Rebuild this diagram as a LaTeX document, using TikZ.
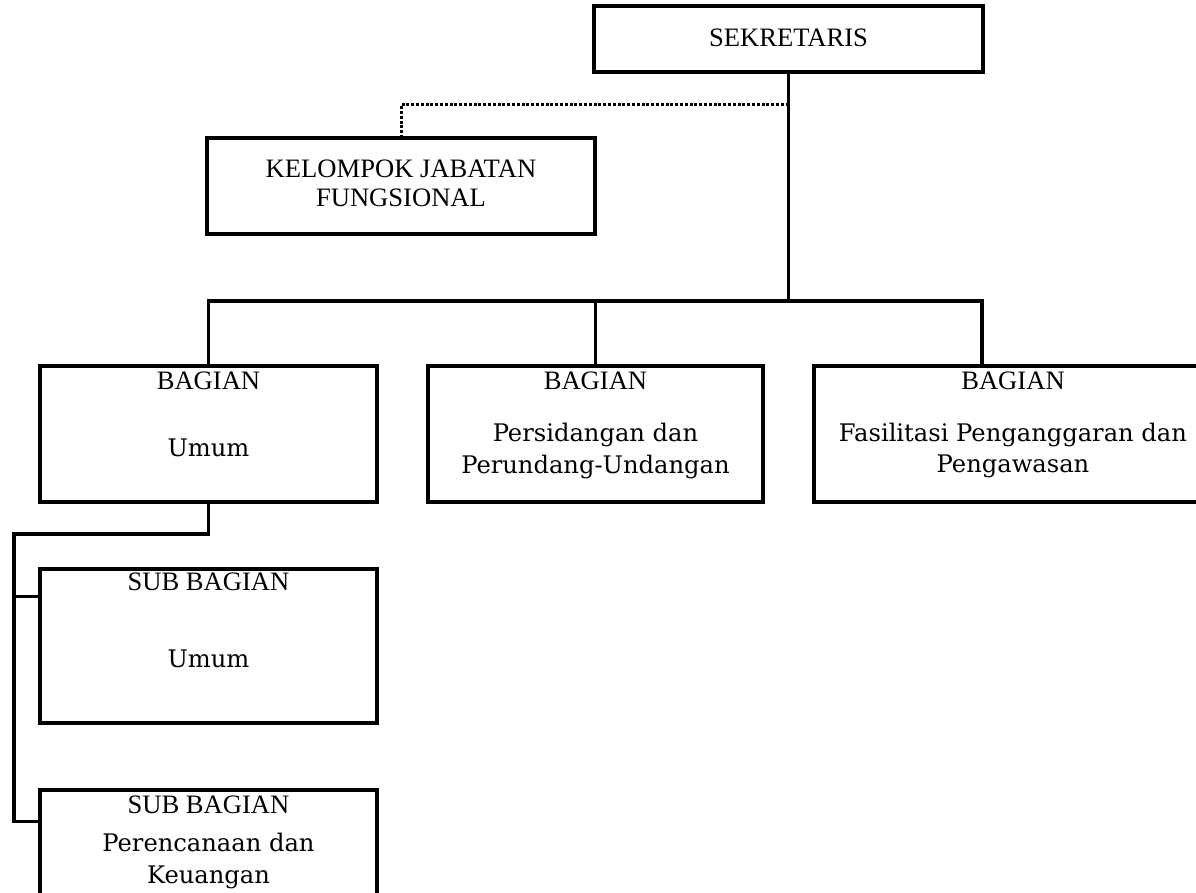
\documentclass[tikz,border=0pt]{standalone}
\usepackage{fontspec}
\setmainfont{Liberation Serif}
\newfontfamily\bukufont{DejaVu Serif}
\begin{document}
\begin{tikzpicture}[x=0.5pt, y=-0.5pt,
	kotak/.style={draw=black, line width=1.6pt, inner sep=0pt},
	judul/.style={anchor=base, font=\fontsize{13.3}{15}\selectfont},
	isi/.style={anchor=base, font=\bukufont\fontsize{12.1}{14}\selectfont},
	garis/.style={line width=1.6pt},
	titik/.style={line width=1.5pt, dash pattern=on 1.5pt off 0.9pt}]
	\useasboundingbox (0,0) rectangle (1196,893);
	\clip (0,0) rectangle (1196,893);
	% Kotak
	\node[kotak, minimum width=194.5pt, minimum height=33pt] (sek) at (788.5, 39) {};
	\node[kotak, minimum width=194pt, minimum height=48pt] (kjf) at (401, 186) {};
	\node[kotak, minimum width=168.5pt, minimum height=68pt] (bu) at (208.5, 434) {};
	\node[kotak, minimum width=167.5pt, minimum height=68pt] (bp) at (595.5, 434) {};
	\node[kotak, minimum width=199pt, minimum height=68pt] (bf) at (1013, 434) {};
	\node[kotak, minimum width=168.5pt, minimum height=77pt] (su1) at (208.5, 646) {};
	\node[kotak, minimum width=168.5pt, minimum height=80pt] (su2) at (208.5, 870) {};

	% Tulisan
	\node[judul] (sek-t) at (788.5, 47) {SEKRETARIS};
	\node[judul] (kjf-t1) at (401, 178) {KELOMPOK JABATAN};
	\node[judul] (kjf-t2) at (401, 207) {FUNGSIONAL};
	\node[judul] (bu-t) at (208.5, 390) {BAGIAN};
	\node[isi] (bu-s) at (208.5, 457) {Umum};
	\node[judul] (bp-t) at (595.5, 390) {BAGIAN};
	\node[isi] (bp-s1) at (595.5, 442) {Persidangan dan};
	\node[isi] (bp-s2) at (595.5, 474) {Perundang-Undangan};
	\node[judul] (bf-t) at (1013, 390) {BAGIAN};
	\node[isi] (bf-s1) at (1013, 442) {Fasilitasi Penganggaran dan};
	\node[isi] (bf-s2) at (1013, 473) {Pengawasan};
	\node[judul] (su1-t) at (208.5, 591) {SUB BAGIAN};
	\node[isi] (su1-s) at (208.5, 668) {Umum};
	\node[judul] (su2-t) at (208.5, 813) {SUB BAGIAN};
	\node[isi] (su2-s1) at (208.5, 851) {Perencanaan dan};
	\node[isi] (su2-s2) at (208.5, 883) {Keuangan};

	% Garis
	\coordinate (cabang) at (sek.south |- 0,105);
	\coordinate (simpul) at (sek.south |- 0,301);
	\coordinate (sudut) at (14,534);
	\draw[titik] (cabang) -| (kjf.north);
	\draw[garis] (sek.south) -- (simpul);
	\draw[garis] (simpul) -| (bu.north);
	\draw[garis] (simpul) -| ([xshift=-15.5pt]bf.north);
	\draw[garis] (bp.north) -- (bp.north |- simpul);
	\draw[garis] (bu.south) |- (sudut) |- ([yshift=-16.5pt]su2.north west);
	\draw[garis] ([yshift=-14.5pt]su1.north west) -- ++(-13pt,0);
\end{tikzpicture}
\end{document}
